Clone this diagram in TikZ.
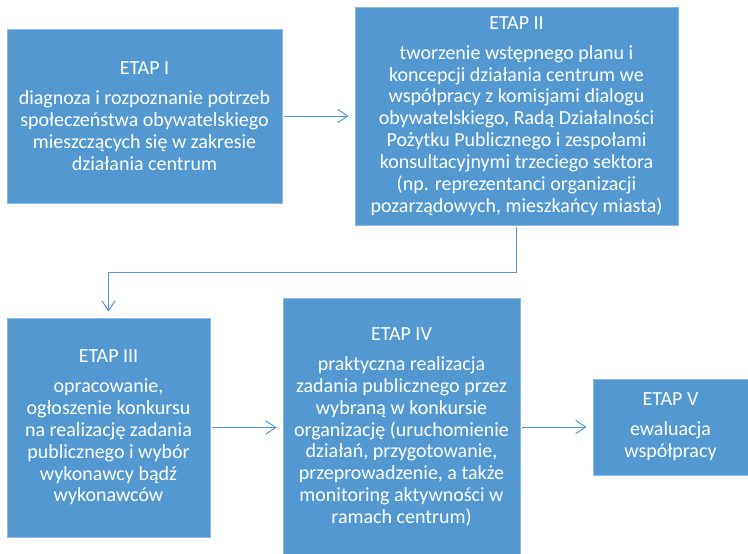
\documentclass[tikz,border=0pt]{standalone}
\usepackage{fontspec}
\setmainfont{Carlito}
\usetikzlibrary{arrows.meta}

\definecolor{etapblue}{RGB}{84,152,210}
\definecolor{etapedge}{RGB}{140,185,228}

\begin{document}
\begin{tikzpicture}[x=0.75pt,y=0.75pt,yscale=-1,
	etapbox/.style={draw=etapedge, line width=0.6pt, fill=etapblue, text=white, align=center, inner sep=0pt, font=\fontsize{15}{16.4}\selectfont},
	flow/.style={draw=etapblue, line width=0.75pt, -{Straight Barb[length=7.5pt,width=10pt]}, shorten <=1.5pt, shorten >=4.5pt}]
	\useasboundingbox (0,0) rectangle (748,553);
	% etapy
	\node [etapbox, minimum width=206.25pt, minimum height=130.5pt] (etapI) at (144.5,116) {ETAP I\\[6pt]diagnoza i rozpoznanie potrzeb\\społeczeństwa obywatelskiego\\mieszczących się w zakresie\\działania centrum};
	\node [etapbox, minimum width=242.25pt, minimum height=163.5pt] (etapII) at (516.5,116) {ETAP II\\[6pt]tworzenie wstępnego planu i\\koncepcji działania centrum we\\współpracy z komisjami dialogu\\obywatelskiego, Radą Działalności\\Pożytku Publicznego i zespołami\\konsultacyjnymi trzeciego sektora\\(np. reprezentanci organizacji\\pozarządowych, mieszkańcy miasta)};
	\node [etapbox, minimum width=152.25pt, minimum height=164.25pt] (etapIII) at (108.5,427.5) {ETAP III\\[6pt]opracowanie,\\ogłoszenie konkursu\\na realizację zadania\\publicznego i wybór\\wykonawcy bądź\\wykonawców};
	\node [etapbox, minimum width=177.75pt, minimum height=193.5pt] (etapIV) at (401.5,427) {ETAP IV\\[6pt]praktyczna realizacja\\zadania publicznego przez\\wybraną w konkursie\\organizację (uruchomienie\\działań, przygotowanie,\\przeprowadzenie, a także\\monitoring aktywności w\\ramach centrum)};
	\node [etapbox, minimum width=116.25pt, minimum height=72pt] (etapV) at (670.5,427) {ETAP V\\[6pt]ewaluacja\\współpracy};
	% strzalki
	\draw [flow] (etapI.east) -- (etapII.west |- etapI.east);
	\draw [flow] (etapII.south) -- ++(0,47) -| (etapIII.north);
	\draw [flow] (etapIII.east) -- (etapIV.west |- etapIII.east);
	\draw [flow] (etapIV.east) -- (etapV.west);
\end{tikzpicture}
\end{document}
